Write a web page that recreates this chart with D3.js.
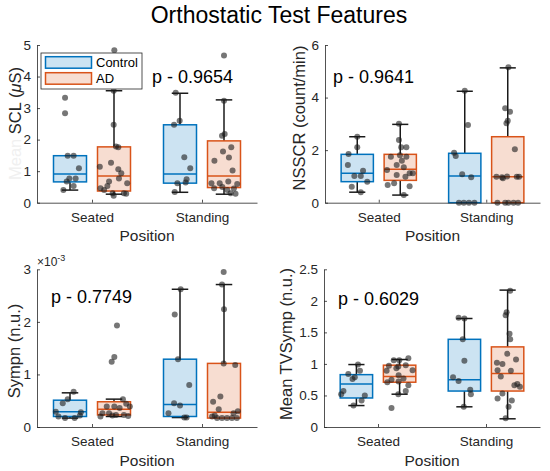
<!DOCTYPE html>
<html>
<head>
<meta charset="utf-8">
<script src="https://cdn.jsdelivr.net/npm/d3@7"></script>
<style>
  body { margin: 0; background: #fff; }
  svg { font-family: "Liberation Sans", Arial, sans-serif; }
  .axis path, .axis line { stroke: #262626; stroke-width: 0.8; }
  .axis text { fill: #262626; font-size: 13.5px; }
</style>
</head>
<body>
<svg id="canvas"></svg>
<script>
const positions = ['Seated', 'Standing'],
      groups = ['Control', 'AD'];

// box rows: Seated Control, Seated AD, Standing Control, Standing AD
// cols: lower whisker, q1, median, q3, upper whisker
const sclBoxes = [
    [0.40, 0.66, 0.91, 1.49, 1.49],
    [0.27, 0.37, 0.85, 1.77, 3.55],
    [0.33, 0.62, 0.91, 2.47, 3.47],
    [0.27, 0.48, 0.85, 1.96, 3.26]
];
const nsscrBoxes = [
    [0.40, 0.80, 1.12, 1.84, 2.51],
    [0.29, 0.85, 1.27, 1.84, 2.98],
    [0, 0, 1.02, 1.88, 4.24],
    [0, 0, 0.99, 2.51, 5.13]
];
const sympnBoxes = [
    [0.17, 0.20, 0.29, 0.51, 0.65],
    [0.20, 0.23, 0.34, 0.48, 0.53],
    [0.18, 0.20, 0.43, 1.29, 2.62],
    [0.17, 0.17, 0.28, 1.21, 2.71]
];
const tvsympBoxes = [
    [0.34, 0.46, 0.68, 0.83, 0.99],
    [0.52, 0.71, 0.80, 0.98, 1.07],
    [0.32, 0.57, 0.75, 1.39, 1.72],
    [0.13, 0.57, 0.85, 1.27, 2.17]
];

// points: [jitter (fraction of box width), value]
const sclPoints = [
    [[-0.15,3.33],[-0.15,2.84],[-0.07,1.49],[0.11,1.49],[0.27,1.09],[-0.02,0.77],[0.17,0.77],[-0.10,0.67],[0.11,0.53],[-0.20,0.40]],
    [[0.01,4.83],[-0.01,3.55],[-0.01,2.47],[0.06,1.78],[0.13,1.76],[-0.43,1.14],[-0.09,1.27],[0.13,1.06],[0.22,0.93],[0.15,0.77],
     [-0.15,0.67],[-0.20,0.53],[0.40,0.62],[-0.41,0.46],[-0.04,0.30],[-0.01,0.22],[0.30,0.30],[0.37,0.28],[-0.30,0.40]],
    [[-0.13,3.49],[-0.01,2.60],[-0.18,2.47],[0.13,1.44],[0.31,1.09],[0.20,0.74],[0.17,0.64],[-0.08,0.62],[-0.16,0.34]],
    [[0.00,4.67],[0.00,3.23],[0.02,2.18],[-0.06,2.12],[0.22,1.76],[-0.03,1.62],[0.15,1.43],[-0.29,1.33],[0.26,1.02],[-0.38,0.62],
     [-0.13,0.62],[0.13,0.67],[0.40,0.59],[-0.30,0.46],[0.20,0.30],[0.35,0.28],[0.30,0.45],[-0.05,0.50],[0.10,0.40]]
];
const nsscrPoints = [
    [[0.00,2.51],[0.00,2.11],[-0.27,1.85],[-0.29,1.43],[0.18,1.22],[-0.09,1.02],[0.11,1.02],[0.31,0.80],[-0.17,0.61],[0.11,0.40]],
    [[-0.04,3.00],[-0.04,2.39],[0.03,2.11],[0.19,2.11],[-0.29,1.75],[-0.01,1.81],[0.19,1.75],[-0.11,1.43],[0.11,1.35],[-0.41,1.24],
     [0.29,1.12],[0.39,1.12],[-0.11,1.05],[0.16,0.99],[-0.39,0.67],[-0.19,0.74],[0.29,0.63],[0.11,0.29],[0.05,1.60]],
    [[0.00,4.26],[0.10,2.96],[-0.33,1.90],[-0.28,1.78],[-0.08,1.08],[0.20,0.97],[-0.18,0],[-0.03,0],[0.13,0],[0.30,0]],
    [[0.02,5.15],[-0.08,3.59],[0.07,3.46],[0.00,3.12],[-0.04,3.02],[0.22,2.03],[-0.35,0.99],[-0.18,0.97],[-0.15,0.93],[-0.02,1.00],
     [0.28,0.99],[0.35,0.99],[-0.32,0],[-0.08,0],[0.02,0],[0.18,0],[0.32,0]]
];
const sympnPoints = [
    [[0.11,0.67],[-0.07,0.53],[-0.22,0.45],[-0.43,0.29],[0.33,0.28],[-0.35,0.20],[-0.15,0.17],[0.14,0.17],[0.30,0.22]],
    [[0.09,1.93],[0.01,1.33],[-0.07,1.24],[0.27,0.53],[-0.22,0.39],[0.01,0.39],[0.37,0.44],[0.17,0.36],[-0.35,0.26],[-0.15,0.26],
     [0.06,0.23],[0.30,0.23],[0.48,0.39],[0.43,0.21],[-0.41,0.20],[-0.05,0.22]],
    [[0.02,2.62],[-0.16,2.14],[-0.06,1.29],[0.28,0.80],[-0.18,0.45],[0.00,0.41],[-0.35,0.26],[0.13,0.18],[0.20,0.18]],
    [[-0.01,2.95],[-0.06,2.71],[0.00,2.24],[-0.01,1.21],[0.34,1.18],[-0.11,0.58],[-0.33,0.48],[-0.16,0.34],[0.42,0.30],[0.29,0.26],
     [-0.36,0.20],[-0.21,0.17],[-0.06,0.17],[0.09,0.17],[0.24,0.17],[0.39,0.17],[-0.28,0.22]]
];
const tvsympPoints = [
    [[0.05,0.99],[0.11,0.89],[-0.25,0.84],[-0.05,0.79],[-0.12,0.76],[-0.40,0.57],[-0.47,0.52],[0.26,0.50],[0.16,0.42],[-0.09,0.34]],
    [[-0.01,1.06],[0.27,1.09],[-0.18,1.06],[-0.33,0.97],[0.19,0.98],[-0.04,0.96],[-0.40,0.89],[-0.10,0.93],[-0.03,0.82],[0.12,0.77],
     [-0.25,0.75],[-0.03,0.72],[-0.38,0.71],[0.27,0.66],[0.19,0.57],[-0.04,0.52],[-0.25,0.30],[0.40,0.90]],
    [[-0.18,1.73],[0.00,1.72],[-0.05,1.39],[0.00,1.05],[-0.35,0.79],[-0.18,0.73],[0.18,0.59],[0.20,0.52],[-0.02,0.32]],
    [[0.08,2.16],[-0.03,1.82],[-0.06,1.77],[0.06,1.48],[0.08,1.39],[-0.01,1.16],[0.26,1.07],[-0.33,1.02],[-0.16,1.00],[-0.31,0.90],
     [0.10,0.89],[-0.21,0.80],[0.30,0.68],[0.38,0.64],[0.21,0.66],[-0.16,0.53],[-0.31,0.45],[0.13,0.42],[0.03,0.32],[-0.06,0.14]]
];

const sclTicks = [0, 1, 2, 3, 4, 5],
      nsscrTicks = [0, 2, 4, 6],
      sympnTicks = [0, 1, 2, 3],
      tvsympTicks = [0, 0.5, 1, 1.5, 2, 2.5];

const pValues = ['0.9654', '0.9641', '0.7749', '0.6029'];

const W = 550, H = 471;
const COLORS = { Control: '#0072BD', AD: '#D95319' },
      FILLS = { Control: '#cce3f2', AD: '#f7ddd1' };

const svg = d3.select('svg#canvas').attr('width', W).attr('height', H);

svg.append('text')
    .attr('x', 279).attr('y', 23)
    .attr('text-anchor', 'middle')
    .attr('font-size', 23)
    .attr('fill', '#000')
    .text('Orthostatic Test Features');

const panels = [
    { boxes: sclBoxes, points: sclPoints, ticks: sclTicks, p: pValues[0],
      left: 37, right: 257, top: 45, bottom: 202.7,
      label: ['Mean ', 'SCL (', 'μ', 'S)'], labelX: 21, labelY: 180, anchor: 'start', pX: 152, pY: 83, legend: true },
    { boxes: nsscrBoxes, points: nsscrPoints, ticks: nsscrTicks, p: pValues[1],
      left: 325, right: 540, top: 45, bottom: 202.7,
      label: ['', 'NSSCR (count/min)'], labelX: 305, labelY: 118, anchor: 'middle', pX: 333, pY: 83 },
    { boxes: sympnBoxes, points: sympnPoints, ticks: sympnTicks, p: pValues[2],
      left: 37, right: 257, top: 269.3, bottom: 427,
      label: ['', 'Sympn (n.u.)'], labelX: 20, labelY: 351, anchor: 'middle', pX: 51, pY: 303, exponent: true },
    { boxes: tvsympBoxes, points: tvsympPoints, ticks: tvsympTicks, p: pValues[3],
      left: 324, right: 540, top: 269.3, bottom: 427,
      label: ['', 'Mean TVSymp (n.u.)'], labelX: 292, labelY: 344, anchor: 'middle', pX: 338, pY: 305 }
];

function drawPanel(cfg) {
    const g = svg.append('g');
    const yMax = d3.max(cfg.ticks);
    const x = d3.scaleLinear().domain([0.5, 2.5]).range([cfg.left, cfg.right]),
          y = d3.scaleLinear().domain([0, yMax]).range([cfg.bottom, cfg.top]);
    const unit = x(1) - x(0),
          boxW = 0.3 * unit,
          capW = 0.15 * unit;

    const rows = [];
    positions.forEach((pos, i) => {
        groups.forEach((grp, j) => {
            const k = i * 2 + j;
            rows.push({ pos: pos, grp: grp, cx: x(i + 1 + (j === 0 ? -0.2 : 0.2)),
                        stats: cfg.boxes[k], pts: cfg.points[k] });
        });
    });

    // boxes
    rows.forEach(r => {
        const [lo, q1, med, q3, hi] = r.stats;
        const bg = g.append('g');
        if (hi > q3) {
            bg.append('line').attr('x1', r.cx).attr('x2', r.cx).attr('y1', y(q3)).attr('y2', y(hi))
                .attr('stroke', '#1a1a1a').attr('stroke-width', 1.5);
            bg.append('line').attr('x1', r.cx - capW / 2).attr('x2', r.cx + capW / 2).attr('y1', y(hi)).attr('y2', y(hi))
                .attr('stroke', '#1a1a1a').attr('stroke-width', 1.5);
        }
        if (lo < q1) {
            bg.append('line').attr('x1', r.cx).attr('x2', r.cx).attr('y1', y(q1)).attr('y2', y(lo))
                .attr('stroke', '#1a1a1a').attr('stroke-width', 1.5);
            bg.append('line').attr('x1', r.cx - capW / 2).attr('x2', r.cx + capW / 2).attr('y1', y(lo)).attr('y2', y(lo))
                .attr('stroke', '#1a1a1a').attr('stroke-width', 1.5);
        }
        bg.append('rect')
            .attr('x', r.cx - boxW / 2).attr('width', boxW)
            .attr('y', y(q3)).attr('height', y(q1) - y(q3))
            .attr('fill', FILLS[r.grp]).attr('stroke', COLORS[r.grp]).attr('stroke-width', 1.5);
        bg.append('line')
            .attr('x1', r.cx - boxW / 2).attr('x2', r.cx + boxW / 2)
            .attr('y1', y(med)).attr('y2', y(med))
            .attr('stroke', COLORS[r.grp]).attr('stroke-width', 1.5);
    });

    // jittered points
    rows.forEach(r => {
        g.append('g').selectAll('circle').data(r.pts).join('circle')
            .attr('cx', d => r.cx + d[0] * boxW)
            .attr('cy', d => y(d[1]))
            .attr('r', 3)
            .attr('fill', '#1a1a1a')
            .attr('fill-opacity', 0.6);
    });

    // axes
    g.append('g').attr('class', 'axis')
        .attr('transform', `translate(${cfg.left},0)`)
        .call(d3.axisLeft(y).tickValues(cfg.ticks).tickSizeInner(-3).tickSizeOuter(0).tickPadding(6)
            .tickFormat(d3.format('~g')));
    g.append('g').attr('class', 'axis')
        .attr('transform', `translate(0,${cfg.bottom})`)
        .call(d3.axisBottom(x).tickValues([1, 2]).tickSizeInner(-3).tickSizeOuter(0).tickPadding(9.5)
            .tickFormat(d => positions[d - 1]));

    g.append('text')
        .attr('x', (cfg.left + cfg.right) / 2).attr('y', cfg.bottom + 38.5)
        .attr('text-anchor', 'middle').attr('font-size', 15.5).attr('fill', '#262626')
        .text('Position');

    const yl = g.append('text')
        .attr('transform', `translate(${cfg.labelX},${cfg.labelY}) rotate(-90)`)
        .attr('text-anchor', cfg.anchor).attr('font-size', 16.5).attr('fill', '#262626');
    yl.append('tspan').attr('fill', '#f0f0f0').text(cfg.label[0]);
    yl.append('tspan').text(cfg.label[1]);
    if (cfg.label.length > 2) {
        yl.append('tspan').attr('font-style', 'italic').text(cfg.label[2]);
        yl.append('tspan').text(cfg.label[3]);
    }

    g.append('text')
        .attr('x', cfg.pX).attr('y', cfg.pY)
        .attr('font-size', 18).attr('fill', '#000')
        .text('p - ' + cfg.p);

    if (cfg.exponent) {
        const ex = g.append('text')
            .attr('x', cfg.left).attr('y', cfg.top - 3)
            .attr('font-size', 12).attr('fill', '#262626');
        ex.append('tspan').text('×10');
        ex.append('tspan').attr('font-size', 9).attr('dy', -5).text('-3');
    }

    if (cfg.legend) {
        const lg = g.append('g').attr('transform', `translate(${cfg.left + 4},53)`);
        lg.append('rect').attr('width', 101).attr('height', 36)
            .attr('fill', '#fff').attr('stroke', '#262626').attr('stroke-width', 0.8);
        groups.forEach((grp, i) => {
            lg.append('rect')
                .attr('x', 4.5).attr('y', 3.7 + i * 16).attr('width', 46).attr('height', 11.5)
                .attr('fill', FILLS[grp]).attr('stroke', COLORS[grp]).attr('stroke-width', 1.5);
            lg.append('text')
                .attr('x', 55).attr('y', 9.5 + i * 16).attr('dy', '0.35em')
                .attr('font-size', 13).attr('fill', '#000')
                .text(grp);
        });
    }
}

panels.forEach(drawPanel);
</script>
</body>
</html>
